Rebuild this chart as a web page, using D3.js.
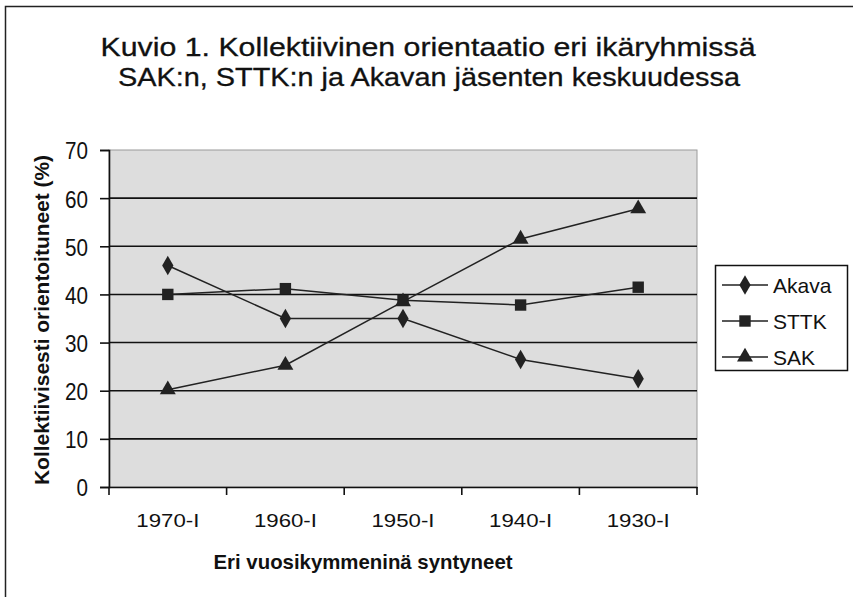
<!DOCTYPE html>
<html>
<head>
<meta charset="utf-8">
<script src="https://cdn.jsdelivr.net/npm/d3@7"></script>
<style>
  body { margin: 0; background: #fff; }
  text { font-family: "Liberation Sans", Arial, sans-serif; fill: #111; }
</style>
</head>
<body>
<svg id="chart" width="853" height="597"></svg>
<script>
const categories = ['1970-l', '1960-l', '1950-l', '1940-l', '1930-l'];
const akava = [46, 35, 35, 26.5, 22.5];
const sttk = [40, 41.2, 38.8, 37.8, 41.5];
const sak = [20.2, 25.3, 38.5, 51.5, 57.8];
const yTicks = [0, 10, 20, 30, 40, 50, 60, 70];
const titleLines = ['Kuvio 1. Kollektiivinen orientaatio eri ikäryhmissä',
  'SAK:n, STTK:n ja Akavan jäsenten keskuudessa'];

const series = [
  {name: 'Akava', values: akava, symbol: d3.symbolDiamond, size: 110},
  {name: 'STTK', values: sttk, symbol: d3.symbolSquare, size: 130},
  {name: 'SAK', values: sak, symbol: d3.symbolTriangle, size: 110}
];

const svg = d3.select('#chart');
const plot = {left: 109, top: 150, right: 697, bottom: 487};

// outer frame (only top/left visible in the picture)
svg.append('rect')
  .attr('x', 5.5).attr('y', 6.5)
  .attr('width', 900).attr('height', 700)
  .attr('fill', 'none').attr('stroke', '#222').attr('stroke-width', 1.5);

// squeeze a text element to a given width
function fitWidth(sel, w) {
  sel.attr('textLength', w).attr('lengthAdjust', 'spacingAndGlyphs');
}

svg.selectAll('text.title')
  .data(titleLines)
  .enter().append('text')
  .attr('class', 'title')
  .attr('x', (d, i) => i === 0 ? 428 : 429)
  .attr('y', (d, i) => 56 + i * 30)
  .attr('text-anchor', 'middle')
  .style('font-size', '26px')
  .style('stroke', '#111').style('stroke-width', 0.3)
  .text(d => d)
  .each(function (d, i) {
    fitWidth(d3.select(this), i === 0 ? 655 : 622);
  });

const x = d3.scaleBand().domain(categories).range([plot.left, plot.right]);
const y = d3.scaleLinear().domain([0, 70]).range([plot.bottom, plot.top]);

svg.append('rect')
  .attr('x', plot.left).attr('y', plot.top)
  .attr('width', plot.right - plot.left).attr('height', plot.bottom - plot.top)
  .attr('fill', '#dddddd').attr('stroke', '#9a9a9a').attr('stroke-width', 1);

// gridlines
svg.append('g')
  .selectAll('line')
  .data(yTicks.slice(1, -1))
  .enter().append('line')
  .attr('x1', plot.left).attr('x2', plot.right)
  .attr('y1', d => y(d)).attr('y2', d => y(d))
  .attr('stroke', '#111').attr('stroke-width', 1.6);

// y axis
const yAxis = svg.append('g')
  .attr('transform', `translate(${plot.left},0)`)
  .call(d3.axisLeft(y).tickValues(yTicks).tickSize(9).tickPadding(12));
yAxis.select('.domain').attr('stroke', '#111').attr('stroke-width', 1.6);
yAxis.selectAll('.tick line').attr('stroke', '#111').attr('stroke-width', 1.6);
yAxis.selectAll('.tick text')
  .style('font-size', '24px').style('font-family', '"Liberation Sans", Arial, sans-serif')
  .attr('fill', '#111')
  .attr('dy', '0.37em')
  .each(function (d) {
    d3.select(this).attr('textLength', String(d).length * 11.5).attr('lengthAdjust', 'spacingAndGlyphs');
  });

// x axis, ticks at category boundaries
const xAxis = svg.append('g')
  .attr('transform', `translate(0,${plot.bottom})`)
  .call(d3.axisBottom(x).tickSize(0).tickPadding(27));
xAxis.select('.domain').attr('stroke', '#111').attr('stroke-width', 1.6);
xAxis.selectAll('.tick text')
  .style('font-size', '19px').style('font-family', '"Liberation Sans", Arial, sans-serif')
  .attr('fill', '#111')
  .text(d => d.replace('-l', '-I'))
  .call(fitWidth, 63);
xAxis.selectAll('line.bound')
  .data(categories.map(c => x(c)).concat([plot.right]))
  .enter().append('line')
  .attr('class', 'bound')
  .attr('x1', d => d).attr('x2', d => d)
  .attr('y1', 0).attr('y2', 8)
  .attr('stroke', '#111').attr('stroke-width', 1.6);

// axis titles
svg.append('text')
  .attr('x', 363).attr('y', 569)
  .attr('text-anchor', 'middle')
  .style('font-size', '21px').style('font-weight', 'bold')
  .text('Eri vuosikymmeninä syntyneet')
  .call(fitWidth, 299);

svg.append('text')
  .attr('transform', 'translate(49,320) rotate(-90)')
  .attr('text-anchor', 'middle')
  .style('font-size', '21px').style('font-weight', 'bold')
  .text('Kollektiivisesti orientoituneet (%)')
  .call(fitWidth, 330);

// lines and markers
const line = d3.line()
  .x((d, i) => x(categories[i]) + x.bandwidth() / 2)
  .y(d => y(d));

series.forEach(function (s) {
  svg.append('path')
    .datum(s.values)
    .attr('d', line)
    .attr('fill', 'none')
    .attr('stroke', '#222')
    .attr('stroke-width', 1.5);

  svg.append('g')
    .selectAll('path')
    .data(s.values)
    .enter().append('path')
    .attr('d', d3.symbol().type(s.symbol).size(s.size))
    .attr('transform', (d, i) => `translate(${x(categories[i]) + x.bandwidth() / 2},${y(d)})`)
    .attr('fill', '#222');
});

// legend
const legend = svg.append('g');
legend.append('rect')
  .attr('x', 715.5).attr('y', 265.5)
  .attr('width', 132).attr('height', 105)
  .attr('fill', '#fff').attr('stroke', '#111').attr('stroke-width', 1.5);

const item = legend.selectAll('g.item')
  .data(series)
  .enter().append('g')
  .attr('class', 'item')
  .attr('transform', (d, i) => `translate(0,${285 + i * 36})`);
item.append('line')
  .attr('x1', 722).attr('x2', 768)
  .attr('stroke', '#222').attr('stroke-width', 1.5);
item.append('path')
  .attr('d', d => d3.symbol().type(d.symbol).size(d.size)())
  .attr('transform', 'translate(745,0)')
  .attr('fill', '#222');
item.append('text')
  .attr('x', 773).attr('y', 8)
  .style('font-size', '21px')
  .text(d => d.name);
</script>
</body>
</html>
